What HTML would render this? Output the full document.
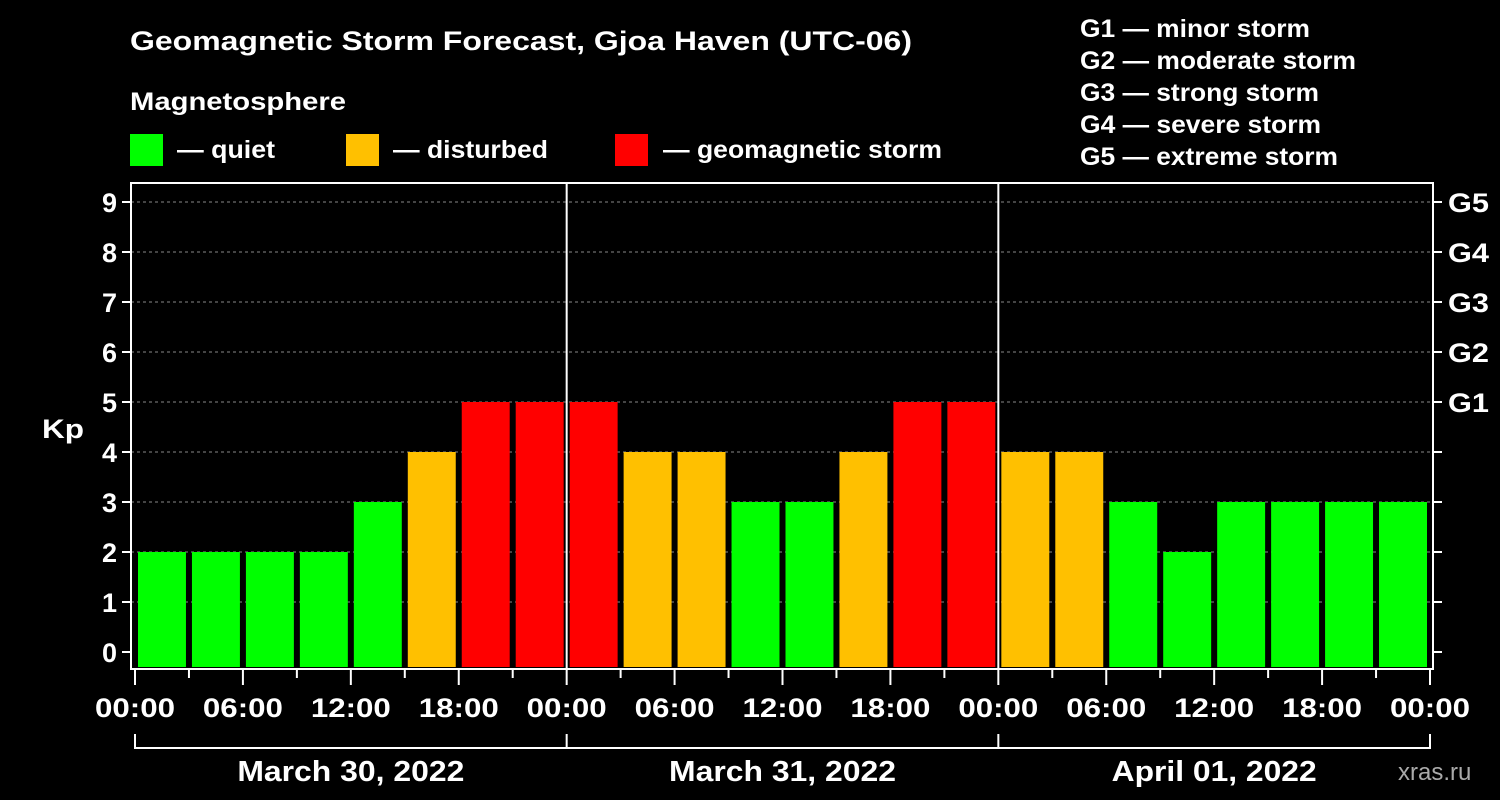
<!DOCTYPE html>
<html><head><meta charset="utf-8"><style>
body{margin:0;background:#000;width:1500px;height:800px;overflow:hidden}
svg{display:block;font-family:"Liberation Sans",sans-serif;font-weight:bold;fill:#fff}
</style></head><body>
<svg id="c" width="1500" height="800">
<text x="130" y="50" font-size="27" textLength="782" lengthAdjust="spacingAndGlyphs">Geomagnetic Storm Forecast, Gjoa Haven (UTC-06)</text>
<text x="130" y="110" font-size="25" textLength="216" lengthAdjust="spacingAndGlyphs">Magnetosphere</text>
<rect x="130" y="134" width="33" height="32" fill="#00ff00"/>
<text x="177" y="158" font-size="25" textLength="98" lengthAdjust="spacingAndGlyphs">— quiet</text>
<rect x="346" y="134" width="33" height="32" fill="#ffc000"/>
<text x="393" y="158" font-size="25" textLength="155" lengthAdjust="spacingAndGlyphs">— disturbed</text>
<rect x="615" y="134" width="33" height="32" fill="#ff0000"/>
<text x="663" y="158" font-size="25" textLength="279" lengthAdjust="spacingAndGlyphs">— geomagnetic storm</text>
<g font-size="25" lengthAdjust="spacingAndGlyphs">
<text x="1080" y="37" textLength="230" lengthAdjust="spacingAndGlyphs">G1 — minor storm</text>
<text x="1080" y="69" textLength="276" lengthAdjust="spacingAndGlyphs">G2 — moderate storm</text>
<text x="1080" y="101" textLength="239" lengthAdjust="spacingAndGlyphs">G3 — strong storm</text>
<text x="1080" y="133" textLength="241" lengthAdjust="spacingAndGlyphs">G4 — severe storm</text>
<text x="1080" y="165" textLength="258" lengthAdjust="spacingAndGlyphs">G5 — extreme storm</text>
</g>
<text x="42" y="438" font-size="27" textLength="42" lengthAdjust="spacingAndGlyphs">Kp</text>
<text x="1398" y="780" font-size="24" style="fill:#aaa;font-weight:normal">xras.ru</text>
<g id="plot"></g>
</svg>
<script>
const values=[2,2,2,2,3,4,5,5,5,4,4,3,3,4,5,5,4,4,3,2,3,3,3,3];
const yTicks=[0,1,2,3,4,5,6,7,8,9];
const gLabels=["G1","G2","G3","G4","G5"];
const timeLabels=["00:00","06:00","12:00","18:00","00:00","06:00","12:00","18:00","00:00","06:00","12:00","18:00","00:00"];
const dates=["March 30, 2022","March 31, 2022","April 01, 2022"];
const NS="http://www.w3.org/2000/svg",g=document.getElementById('plot');
const X0=135,X1=1430,L=131,R=1433,T=183,B=669;
const x=i=>X0+(X1-X0)*i/values.length;
const y=v=>652-50*v;
function el(t,a,p){const e=document.createElementNS(NS,t);for(const k in a)e.setAttribute(k,a[k]);(p||g).appendChild(e);return e;}
const col=v=>v>=5?"#ff0000":v>=4?"#ffc000":"#00ff00";
yTicks.forEach(v=>{
 if(v>0){const l=el('line',{x1:L,x2:R,y1:y(v),y2:y(v),stroke:'#888','stroke-dasharray':'3,3','stroke-width':1});
 }
 const tk=el('line',{x1:L-9,x2:L,y1:y(v),y2:y(v),stroke:'#fff','stroke-width':2});
 
 const tk2=el('line',{x1:R,x2:R+9,y1:y(v),y2:y(v),stroke:'#fff','stroke-width':2});
 
 const t=el('text',{x:L-14,y:y(v)+10,'font-size':27,'text-anchor':'end'});t.textContent=v;
 
});
gLabels.forEach((s,i)=>{const t=el('text',{x:R+15,y:y(5+i)+10,'font-size':27,textLength:41,lengthAdjust:'spacingAndGlyphs'});t.textContent=s;
 });
values.forEach((v,i)=>{const b=el('rect',{x:x(i)+3,y:y(v),width:x(1)-x(0)-6,height:B-2-y(v),fill:col(v)});
 });
[8,16].forEach(i=>{const l=el('line',{x1:x(i),x2:x(i),y1:T,y2:B,stroke:'#fff','stroke-width':2});
 });
const fr=el('rect',{x:L,y:T,width:R-L,height:B-T,fill:'none',stroke:'#fff','stroke-width':2});

for(let i=0;i<=values.length;i++){const major=i%2==0;
 const tk=el('line',{x1:x(i),x2:x(i),y1:B,y2:B+(major?16:9),stroke:'#fff','stroke-width':2});
 }
timeLabels.forEach((s,i)=>{const t=el('text',{x:x(i*2),y:717,'font-size':27,'text-anchor':'middle',textLength:80,lengthAdjust:'spacingAndGlyphs'});t.textContent=s;
 });
const br=el('path',{d:`M${x(0)},734V748H${x(24)}V734M${x(8)},734V748M${x(16)},734V748`,stroke:'#fff','stroke-width':2,fill:'none'});

const dateW=[227,227,205];
dates.forEach((s,i)=>{const t=el('text',{x:(x(i*8)+x(i*8+8))/2,y:781,'font-size':29,'text-anchor':'middle',textLength:dateW[i],lengthAdjust:'spacingAndGlyphs'});t.textContent=s;
 });
</script>
</body></html>
